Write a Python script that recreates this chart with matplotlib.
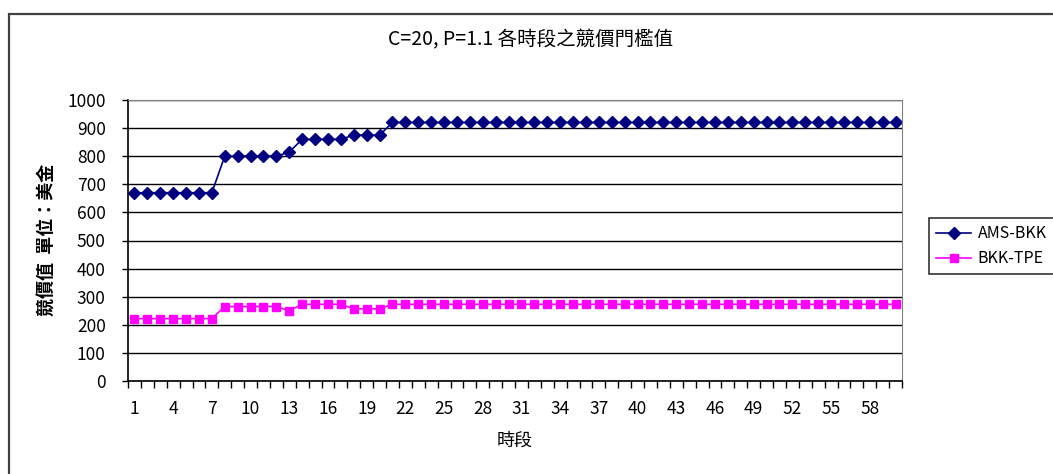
import matplotlib
matplotlib.use("Agg")
import matplotlib.pyplot as plt
from matplotlib.patches import Rectangle
from matplotlib.ticker import MultipleLocator

plt.rcParams["font.family"] = ["Noto Sans CJK TC", "DejaVu Sans"]

# 60 time slots, bid-price thresholds in USD
periods = list(range(1, 61))
ams_bkk = [670] * 7 + [800] * 5 + [815] + [860] * 4 + [875] * 3 + [920] * 40
bkk_tpe = [222] * 7 + [265] * 5 + [250] + [273] * 4 + [257] * 3 + [273] * 40
series_names = ["AMS-BKK", "BKK-TPE"]
tick_labels = [str(p) for p in periods[::3]]

title = "C=20, P=1.1 各時段之競價門檻值"
ylabel = "競價值  單位：美金"
xlabel = "時段"

W, H = 1053, 474
fig = plt.figure(figsize=(W / 100, H / 100), dpi=100)
ax = fig.add_axes([128 / W, 1 - 381 / H, (902 - 128) / W, (381 - 100) / H])

x = list(range(len(periods)))
ax.plot(x, ams_bkk, color="#000080", marker="D", markersize=6.5, lw=1.2,
        label=series_names[0])
ax.plot(x, bkk_tpe, color="#FF00FF", marker="s", markersize=5.5, lw=1.2,
        label=series_names[1])

ax.set_xlim(-0.5, len(periods) - 0.5)
ax.set_ylim(0, 1000)
ax.yaxis.set_major_locator(MultipleLocator(100))
ax.grid(axis="y", color="black", lw=1)
ax.set_axisbelow(True)

ax.set_xticks(x[::3])
ax.set_xticklabels(tick_labels)
ax.set_xticks([i - 0.5 for i in range(len(periods) + 1)], minor=True)
ax.tick_params(axis="x", which="major", length=0, pad=14)
ax.tick_params(axis="x", which="minor", length=5, width=1, direction="out")
ax.tick_params(axis="y", length=4, width=1, direction="out", pad=12)
for lbl in ax.get_xticklabels() + ax.get_yticklabels():
    lbl.set_fontsize(12.5)

for side in ("left", "bottom"):
    ax.spines[side].set_color("black")
    ax.spines[side].set_linewidth(1.2)
for side in ("top", "right"):
    ax.spines[side].set_color("#808080")

fig.text(531 / W, 1 - 40 / H, title, ha="center", va="center", fontsize=14)
fig.text(515 / W, 1 - 441 / H, xlabel, ha="center", va="center", fontsize=13)
fig.text(47 / W, 1 - 240 / H, ylabel, ha="center", va="center",
         rotation=90, fontsize=13, fontweight="bold")

leg = fig.legend(loc="upper left", bbox_to_anchor=(921 / W, 1 - 210 / H),
                 frameon=True, fancybox=False, edgecolor="black",
                 handlelength=2.2, handletextpad=0.4, borderpad=0.45,
                 labelspacing=0.5, prop={"size": 11.5})
leg.get_frame().set_linewidth(1.2)

# chart area border
fig.patches.append(Rectangle((9 / W, -0.1), 1.2, 1 - 14 / H + 0.1,
                             transform=fig.transFigure, fill=False,
                             edgecolor="#404040", lw=1.6))

fig.savefig("out.png", dpi=100)
